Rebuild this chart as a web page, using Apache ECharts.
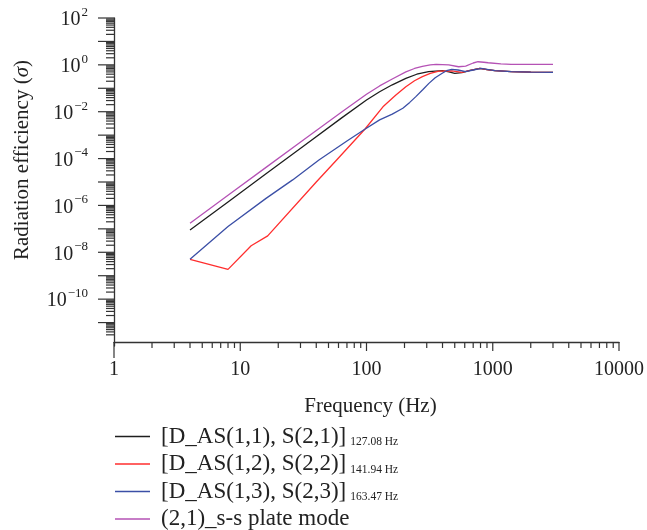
<!DOCTYPE html>
<html><head><meta charset="utf-8">
<script src="https://cdn.jsdelivr.net/npm/echarts@6/dist/echarts.min.js"></script>
<style>html,body{margin:0;padding:0;background:#fff}#c{width:647px;height:530px}</style>
</head><body><div id="c"></div>
<script>
// ---- data ----
const seriesNames = ['[D_AS(1,1), S(2,1)]', '[D_AS(1,2), S(2,2)]', '[D_AS(1,3), S(2,3)]', '(2,1)_s-s plate mode'];
const seriesSubs = ['127.08 Hz', '141.94 Hz', '163.47 Hz', ''];
const seriesColors = ['#1e1e1e', '#ff2e2e', '#3b4fa6', '#b552b5'];

const blackFreq  = [4, 8, 16, 32, 64, 100, 127, 160, 205, 250, 310, 400, 450, 500, 570, 650, 790, 900, 1040, 1400, 2000, 3000];
const blackSigma = [8.9e-8, 1.41e-6, 2.24e-5, 3.55e-4, 5.6e-3, 3.16e-2, 7.1e-2, 0.141, 0.263, 0.398, 0.513, 0.562, 0.50, 0.437, 0.468, 0.562, 0.708, 0.631, 0.562, 0.513, 0.49, 0.479];

const redFreq  = [4, 8, 12.2, 16.5, 40, 58, 97, 135, 170, 205, 240, 277, 320, 374, 474, 569, 650, 791, 900, 1037, 1400, 2000, 3000];
const redSigma = [5.0e-9, 1.86e-9, 1.9e-8, 5.0e-8, 1.0e-5, 8.7e-5, 1.78e-3, 1.62e-2, 5.0e-2, 0.117, 0.209, 0.316, 0.437, 0.537, 0.55, 0.479, 0.562, 0.708, 0.631, 0.562, 0.513, 0.49, 0.479];

const blueFreq  = [4, 8, 16, 26, 42, 70, 97, 127, 160, 194, 220, 246, 280, 312, 350, 398, 430, 474, 530, 610, 700, 810, 900, 1040, 1400, 2000, 3000];
const blueSigma = [5.1e-9, 1.26e-7, 2.0e-6, 1.23e-5, 8.7e-5, 5.6e-4, 1.78e-3, 4.5e-3, 7.9e-3, 1.41e-2, 2.5e-2, 4.4e-2, 8.9e-2, 0.162, 0.282, 0.437, 0.562, 0.646, 0.603, 0.513, 0.603, 0.708, 0.646, 0.562, 0.513, 0.49, 0.479];

const purpleFreq  = [4, 8, 16, 32, 64, 100, 127, 160, 205, 240, 277, 320, 356, 448, 536, 610, 700, 764, 850, 920, 1160, 1400, 3000];
const purpleSigma = [1.74e-7, 2.7e-6, 4.2e-5, 6.5e-4, 1.0e-2, 5.6e-2, 0.126, 0.25, 0.5, 0.70, 0.87, 1.0, 1.05, 1.0, 0.83, 0.89, 1.2, 1.36, 1.29, 1.23, 1.10, 1.05, 1.05];

// axis ranges / tick values
const xMin = 1, xMax = 10000;
const yMin = 1e-12, yMax = 100;
const xDecades = [0, 1, 2, 3, 4];            // 10^0 .. 10^4
const yDecades = [-12, -11, -10, -9, -8, -7, -6, -5, -4, -3, -2, -1, 0, 1, 2];
const minorMultipliers = [2, 3, 4, 5, 6, 7, 8, 9];

// ---- layout / style constants ----
const SERIF = '"Liberation Serif", "DejaVu Serif", serif';
const AXIS_COLOR = '#333';
const TEXT_COLOR = '#222';
const X_AXIS_OFFSET = -4;
const X_MAJOR_LEN = 9, X_MINOR_LEN = 6, X_ORIGIN_LEN = 16;
const Y_MAJOR_LEN = 16, Y_MINOR_LEN = 8;

function pairs(f, s) { return f.map((v, i) => [v, s[i]]); }
const seriesData = [pairs(blackFreq, blackSigma), pairs(redFreq, redSigma), pairs(blueFreq, blueSigma), pairs(purpleFreq, purpleSigma)];

// tick definitions: [x, y, kind]  kind: 0 x-major, 1 x-minor, 2 y-major, 3 y-minor, 4 x-origin
const tickData = [];
xDecades.forEach((d, i) => {
  const v = Math.pow(10, d);
  tickData.push([v, yMin, i === 0 ? 4 : 0]);
  if (d < xDecades[xDecades.length - 1]) minorMultipliers.forEach(m => tickData.push([m * v, yMin, 1]));
});
yDecades.forEach(d => {
  const v = Math.pow(10, d);
  if (d > -12) tickData.push([xMin, v, 2]);
  if (d < yDecades[yDecades.length - 1]) minorMultipliers.forEach(m => { if (d > -12 || m >= 3) tickData.push([xMin, m * v, 3]); });
});

function supLabel(e) {
  const s = e < 0 ? '\u2212' + (-e) : String(e);
  return '{b|10}{s|' + s + '}';
}

const chart = echarts.init(document.getElementById('c'), null, { renderer: 'canvas' });
const option = {
  animation: false,
  backgroundColor: '#fff',
  grid: { left: 114, right: 21, top: 18, bottom: 184 },
  xAxis: {
    type: 'log', logBase: 10, min: xMin, max: xMax, offset: X_AXIS_OFFSET,
    name: 'Frequency (Hz)', nameLocation: 'middle', nameGap: 54,
    nameTextStyle: { fontFamily: SERIF, fontSize: 21, color: TEXT_COLOR, padding: [0, 0, 0, 8] },
    axisLine: { lineStyle: { color: AXIS_COLOR, width: 1.3 } },
    axisTick: { show: false },
    splitLine: { show: false },
    axisLabel: { fontFamily: SERIF, fontSize: 20, color: TEXT_COLOR, margin: 18,
      formatter: v => String(Math.round(v)) }
  },
  yAxis: {
    type: 'log', logBase: 10, min: yMin, max: yMax, interval: 1,
    axisLine: { lineStyle: { color: AXIS_COLOR, width: 1.3 } },
    axisTick: { show: false },
    splitLine: { show: false },
    axisLabel: {
      margin: 26, color: TEXT_COLOR,
      formatter: v => {
        const e = Math.round(Math.log10(v));
        if (Math.abs(Math.log10(v) - e) > 1e-6) return '';
        if (e % 2 !== 0 || e < -10) return '';
        return supLabel(e);
      },
      rich: {
        b: { fontFamily: SERIF, fontSize: 20, color: TEXT_COLOR, lineHeight: 24, verticalAlign: 'bottom' },
        s: { fontFamily: SERIF, fontSize: 13, color: TEXT_COLOR, lineHeight: 24, verticalAlign: 'top', padding: [0, 0, 0, 1] }
      }
    }
  },
  legend: {
    data: seriesNames, orient: 'vertical', left: 115, top: 425, height: 110, padding: 0,
    itemWidth: 35, itemHeight: 1.6, icon: 'rect', itemGap: 4.5,
    formatter: name => {
      const i = seriesNames.indexOf(name);
      return '{m|' + name + '}{sub|' + (seriesSubs[i] || ' ') + '}';
    },
    textStyle: {
      color: TEXT_COLOR, padding: [0, 0, 0, 6],
      rich: {
        m: { fontFamily: SERIF, fontSize: 23, color: TEXT_COLOR },
        sub: { fontFamily: SERIF, fontSize: 11.5, color: TEXT_COLOR, padding: [11, 0, 0, 4] }
      }
    }
  },
  graphic: [{
    type: 'text', x: 22, y: 160, rotation: Math.PI / 2,
    style: {
      text: '{n|Radiation efficiency (}{i|\u03c3}{n|)}',
      align: 'center', verticalAlign: 'middle',
      rich: {
        n: { fontFamily: SERIF, fontSize: 21, fill: TEXT_COLOR },
        i: { fontFamily: SERIF, fontSize: 21, fontStyle: 'italic', fill: TEXT_COLOR }
      }
    }
  }],
  series: seriesNames.map((n, i) => ({
    name: n, type: 'line', data: seriesData[i], showSymbol: false, symbol: 'none',
    color: seriesColors[i], lineStyle: { color: seriesColors[i], width: 1.3 }, z: 3 + i
  })).concat([{
    type: 'custom', name: 'ticks', coordinateSystem: 'cartesian2d', silent: true, clip: false,
    encode: { x: 0, y: 1 }, data: tickData, z: 10,
    renderItem: (params, api) => {
      const p = api.coord([api.value(0), api.value(1)]);
      const kind = api.value(2);
      let shape;
      if (kind === 0 || kind === 1 || kind === 4) {
        const y = p[1] + X_AXIS_OFFSET;
        const len = kind === 4 ? X_ORIGIN_LEN : (kind === 0 ? X_MAJOR_LEN : X_MINOR_LEN);
        shape = { x1: p[0], y1: y, x2: p[0], y2: y + len };
      } else {
        const len = kind === 2 ? Y_MAJOR_LEN : Y_MINOR_LEN;
        shape = { x1: p[0], y1: p[1], x2: p[0] - len, y2: p[1] };
      }
      return { type: 'line', shape: shape, style: { stroke: AXIS_COLOR, lineWidth: 1.2 } };
    }
  }])
};
chart.setOption(option);
</script>
</body></html>
